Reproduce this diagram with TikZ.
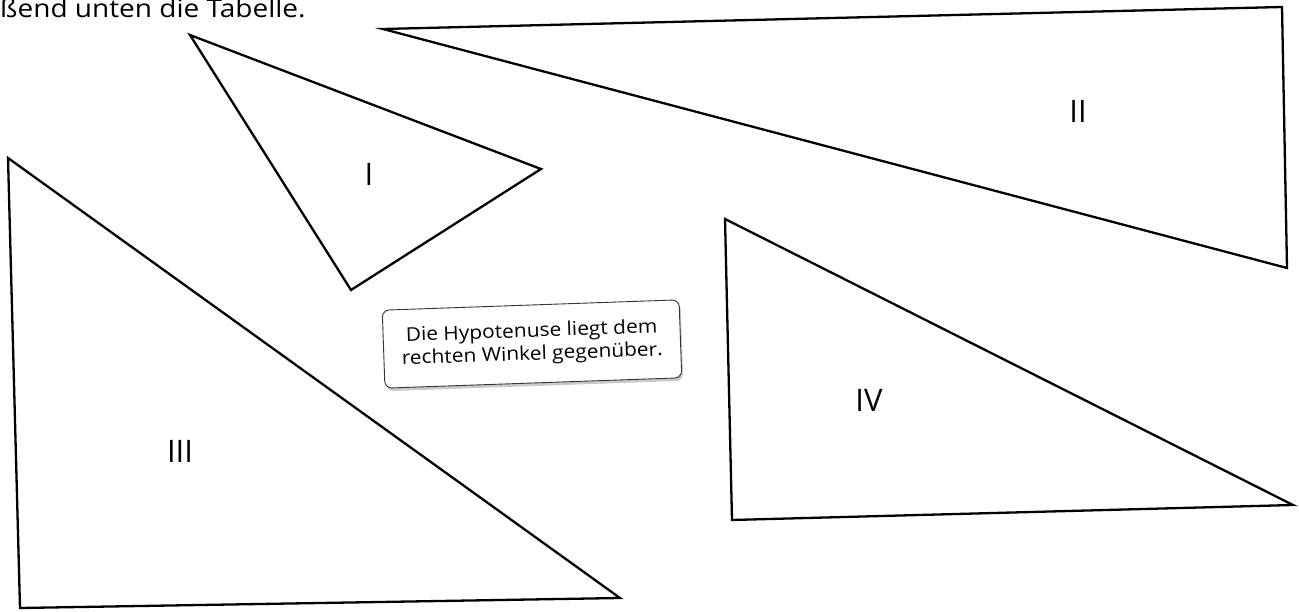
\documentclass[tikz,border=0pt]{standalone}
\usepackage{fontspec}
\setmainfont{Open Sans}
\usetikzlibrary{shadows}
\begin{document}
\begin{tikzpicture}[x=1pt,y=-1pt,
  tri/.style={draw=black,line width=2.3pt,line join=miter},
  lbl/.style={font=\fontsize{31}{33}\selectfont, inner sep=0pt},
  callout/.style={draw=black!80, line width=0.9pt, fill=white, rounded corners=7pt,
    minimum width=297pt, minimum height=78pt, inner sep=0pt,
    font=\fontsize{19}{23}\selectfont,
    drop shadow={shadow xshift=1.5pt, shadow yshift=-3pt, opacity=0.35, fill=black!60}}]
\useasboundingbox (0,0) rectangle (1299,612);
\clip (0,0) rectangle (1299,612);
\fill[white] (0,0) rectangle (1299,612);
\node[anchor=base west, inner sep=0pt, font=\fontsize{25}{28}\selectfont] (top) at (0,18) {\scalebox{1.12}[1]{ßend unten die Tabelle.}};
% Triangle I
\coordinate (a1) at (190,35); \coordinate (a2) at (541,169); \coordinate (a3) at (351,290);
\draw[tri] (a1) -- (a2) -- (a3) -- cycle;
\node[lbl] (l1) at (369,174) {I};
% Triangle II
\coordinate (b1) at (383,29); \coordinate (b2) at (1282,7); \coordinate (b3) at (1287,268);
\draw[tri] (b1) -- (b2) -- (b3) -- cycle;
\node[lbl] (l2) at (1078,111) {II};
% Triangle III
\coordinate (c1) at (8,158); \coordinate (c2) at (20,608); \coordinate (c3) at (620,598);
\draw[tri] (c1) -- (c2) -- (c3) -- cycle;
\node[lbl] (l3) at (180,451) {III};
% Triangle IV
\coordinate (d1) at (725,219); \coordinate (d2) at (732,520); \coordinate (d3) at (1293,505);
\draw[tri] (d1) -- (d2) -- (d3) -- cycle;
\node[lbl] (l4) at (869,400) {IV};
% Callout
\node[callout, rotate=2] (note) at (532,344) {\scalebox{1.1}[1]{\begin{tabular}{@{}c@{}}Die Hypotenuse liegt dem\\rechten Winkel gegenüber.\end{tabular}}};
\end{tikzpicture}
\end{document}
